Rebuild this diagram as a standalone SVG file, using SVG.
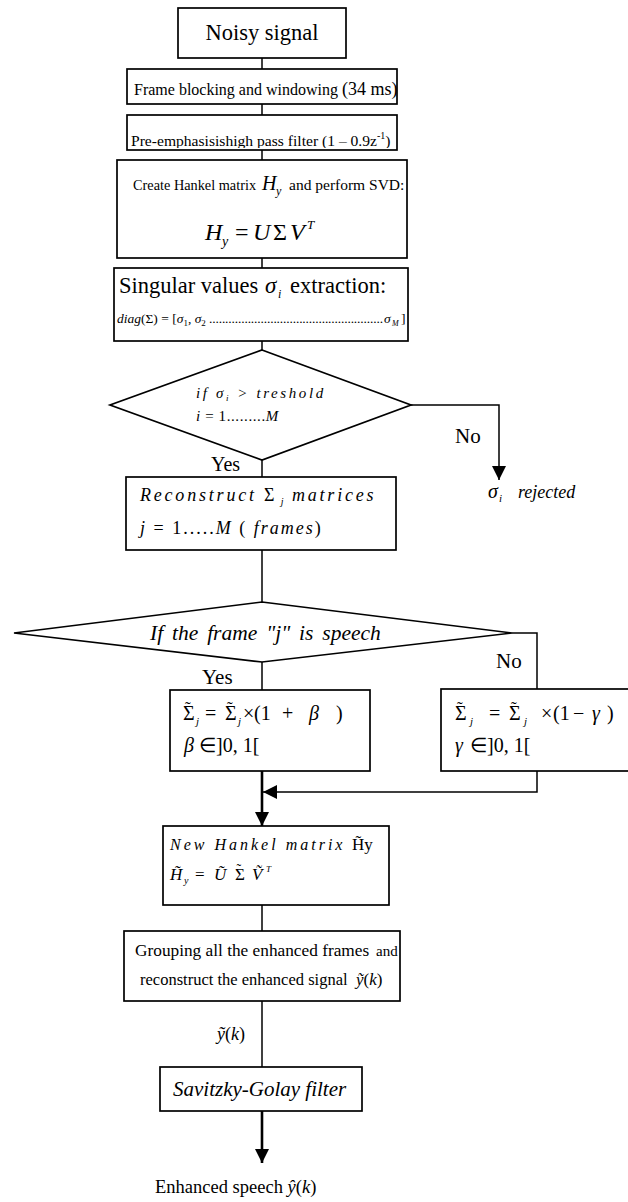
<svg xmlns="http://www.w3.org/2000/svg" width="628" height="1202" viewBox="0 0 628 1202" font-family="'Liberation Serif','Times New Roman',serif">
<style>
.b{fill:#fff;stroke:#000;stroke-width:1.7}
.c{fill:none;stroke:#000;stroke-width:1.5}
.ck{fill:none;stroke:#000;stroke-width:2.6}
text{font-family:"Liberation Serif","Times New Roman",serif;fill:#000}
.i{font-style:italic}
.n{font-style:normal}
</style>
<defs>
<marker id="ah" markerUnits="userSpaceOnUse" markerWidth="16" markerHeight="16" refX="14" refY="8" orient="auto" viewBox="0 0 16 16"><path d="M0,1 L14,8 L0,15 Z" fill="#000"/></marker>
<clipPath id="cpPre"><rect x="127" y="115" width="270" height="33"/></clipPath>
<clipPath id="cpSav"><rect x="160" y="1067" width="202" height="34"/></clipPath>
</defs>
<rect width="628" height="1202" fill="#fff"/>
<g id="connectors">
<path class="c" d="M262,58 V69"/>
<path class="c" d="M262,104 V115"/>
<path class="c" d="M262,150 V160"/>
<path class="c" d="M262,258 V268"/>
<path class="c" d="M262,341 V350"/>
<path class="c" d="M411,405 H499 V480" marker-end="url(#ah)"/>
<path class="c" d="M262,460 V477"/>
<path class="c" d="M262,550 V602"/>
<path class="c" d="M262,662 V690"/>
<path class="c" d="M512,633 H537 V689"/>
<path class="ck" d="M262,771 V826" marker-end="url(#ah)"/>
<path class="c" d="M537,771 V792 H263" marker-end="url(#ah)"/>
<path class="c" d="M262,905 V931"/>
<path class="c" d="M262,1001 V1067"/>
<path class="ck" d="M262,1111 V1163" marker-end="url(#ah)"/>
<text x="455" y="443" font-size="21">No</text>
<text x="211" y="471" font-size="20">Yes</text>
<text x="202" y="684" font-size="21">Yes</text>
<text x="496" y="668" font-size="21">No</text>
<text y="1040" font-size="18"><tspan x="217" class="i">ỹ</tspan>(<tspan class="i">k</tspan>)</text>
</g>
<g id="node-noisy">
<rect class="b" x="178" y="8" width="168" height="50"/>
<text x="262" y="40" font-size="22.5" text-anchor="middle">Noisy signal</text>
</g>
<g id="node-frame">
<rect class="b" x="127" y="69" width="270" height="35"/>
<text x="134" y="95"><tspan font-size="16">Frame blocking and windowing </tspan><tspan font-size="18">(34 ms)</tspan></text>
</g>
<g id="node-preemphasis">
<rect class="b" x="127" y="115" width="270" height="35"/>
<text x="131" y="146" font-size="15.6" clip-path="url(#cpPre)">Pre-emphasisishigh pass filter (1 – 0.9z<tspan font-size="10" dy="-7">-1</tspan><tspan dy="7">)</tspan></text>
</g>
<g id="node-hankel">
<rect class="b" x="117" y="160" width="290" height="98"/>
<text y="190"><tspan x="133" font-size="14.3">Create Hankel matrix</tspan><tspan x="262" class="i" font-size="20">H</tspan><tspan x="276" dy="5" class="i" font-size="12">y</tspan><tspan x="289" dy="-5" font-size="15.5">and perform SVD:</tspan></text>
<text y="240" font-size="24"><tspan x="205" class="i">H</tspan><tspan x="222" dy="6" class="i" font-size="14">y</tspan><tspan x="235" dy="-6">=</tspan><tspan x="253" class="i">U</tspan><tspan x="273">Σ</tspan><tspan x="290" class="i">V</tspan><tspan x="307" dy="-11" class="i" font-size="13">T</tspan></text>
</g>
<g id="node-singular">
<rect class="b" x="114" y="268" width="294" height="73"/>
<text y="293"><tspan x="119" font-size="22.5">Singular values</tspan><tspan x="265" class="i" font-size="23">σ</tspan><tspan x="278" dy="5" class="i" font-size="12">i</tspan><tspan x="290" dy="-5" font-size="22.5">extraction:</tspan></text>
<text y="323" font-size="13.5"><tspan x="117" class="i">diag</tspan>(Σ) = [<tspan class="i">σ</tspan><tspan font-size="9" dy="3">1</tspan><tspan dy="-3">, </tspan><tspan class="i">σ</tspan><tspan font-size="9" dy="3">2</tspan></text>
<text x="209" y="323" font-size="13.5" textLength="174" lengthAdjust="spacing">......................................................</text>
<text y="323" font-size="13.5"><tspan x="384" class="i">σ</tspan><tspan x="392" dy="3" class="i" font-size="8">M</tspan><tspan x="401" dy="-3">]</tspan></text>
</g>
<g id="node-threshold">
<polygon class="b" points="262,350 411,405 262,460 110,405"/>
<text x="196" y="398" class="i" font-size="15" letter-spacing="2.6">if σ<tspan font-size="9" dy="3">i</tspan><tspan dy="-3"> &gt; treshold</tspan></text>
<text y="421" font-size="15" letter-spacing="0.6"><tspan x="196" class="i">i</tspan> = 1.........<tspan class="i">M</tspan></text>
</g>
<g id="node-rejected">
<text y="498"><tspan x="488" class="i" font-size="20">σ</tspan><tspan x="499" dy="4" class="i" font-size="11">i</tspan><tspan x="518" dy="-4" class="i" font-size="18">rejected</tspan></text>
</g>
<g id="node-reconstruct">
<rect class="b" x="126" y="477" width="270" height="73"/>
<text x="140" y="501" class="i" font-size="18" letter-spacing="2.8">Reconstruct <tspan class="n">Σ</tspan><tspan font-size="10" dy="4" letter-spacing="1"> j</tspan><tspan dy="-4"> matrices</tspan></text>
<text y="534" font-size="18" letter-spacing="2"><tspan x="140" class="i">j</tspan> = 1.....<tspan class="i">M</tspan> ( <tspan class="i">frames</tspan>)</text>
</g>
<g id="node-speech">
<polygon class="b" points="262,602 512,633 262,662 14,633"/>
<text x="150" y="640" class="i" font-size="21.5" word-spacing="3.5">If the frame "j" is speech</text>
</g>
<g id="node-boost">
<rect class="b" x="170" y="690" width="200" height="81"/>
<text y="720" font-size="20"><tspan x="183">Σ</tspan><tspan x="185" dy="-7" font-size="17">˜</tspan><tspan x="196" dy="12" class="i" font-size="11">j</tspan><tspan x="205" dy="-5">=</tspan><tspan x="225">Σ</tspan><tspan x="227" dy="-7" font-size="17">˜</tspan><tspan x="238" dy="12" class="i" font-size="11">j</tspan><tspan x="243" dy="-5">×</tspan><tspan x="254">(1</tspan><tspan x="282">+</tspan><tspan x="309" class="i">β</tspan><tspan x="336">)</tspan></text>
<text y="752" font-size="20"><tspan x="184" class="i">β</tspan><tspan x="199">∈]0, 1[</tspan></text>
</g>
<g id="node-attenuate">
<rect class="b" x="441" y="689" width="200" height="82"/>
<text y="720" font-size="20"><tspan x="455">Σ</tspan><tspan x="457" dy="-7" font-size="17">˜</tspan><tspan x="470" dy="12" class="i" font-size="11">j</tspan><tspan x="489" dy="-5">=</tspan><tspan x="509">Σ</tspan><tspan x="511" dy="-7" font-size="17">˜</tspan><tspan x="524" dy="12" class="i" font-size="11">j</tspan><tspan x="541" dy="-5">×</tspan><tspan x="553">(1</tspan><tspan x="573">−</tspan><tspan x="592" class="i">γ</tspan><tspan x="607">)</tspan></text>
<text y="752" font-size="20"><tspan x="455" class="i">γ</tspan><tspan x="470">∈]0, 1[</tspan></text>
</g>
<g id="node-newhankel">
<rect class="b" x="163" y="826" width="226" height="79"/>
<text x="170" y="850" class="i" font-size="16" letter-spacing="3">New Hankel matrix</text>
<text x="352" y="850" font-size="17">H̃y</text>
<text y="880" font-size="17"><tspan x="170" class="i">H̃</tspan><tspan x="184" dy="4" class="i" font-size="10">y</tspan><tspan x="195" dy="-4">=</tspan><tspan x="214" class="i">Ũ</tspan><tspan x="235">Σ</tspan><tspan x="236.5" dy="-6" font-size="14">˜</tspan><tspan x="252" dy="6" class="i">Ṽ</tspan><tspan x="266" dy="-8" class="i" font-size="9">T</tspan></text>
</g>
<g id="node-grouping">
<rect class="b" x="124" y="931" width="276" height="70"/>
<text y="956"><tspan x="135" font-size="17.3">Grouping all the enhanced frames</tspan><tspan x="376" font-size="15">and</tspan></text>
<text y="985"><tspan x="140" font-size="16.5">reconstruct the enhanced signal</tspan><tspan x="356" class="i" font-size="17">ỹ</tspan><tspan font-size="17">(</tspan><tspan class="i" font-size="17">k</tspan><tspan font-size="17">)</tspan></text>
</g>
<g id="node-savitzky">
<rect class="b" x="160" y="1067" width="202" height="44"/>
<text x="173" y="1096" class="i" font-size="21" clip-path="url(#cpSav)">Savitzky-Golay filter</text>
</g>
<g id="node-output">
<text y="1193" font-size="18.5"><tspan x="155">Enhanced speech </tspan><tspan class="i">ŷ</tspan>(<tspan class="i">k</tspan>)</text>
</g>
</svg>
